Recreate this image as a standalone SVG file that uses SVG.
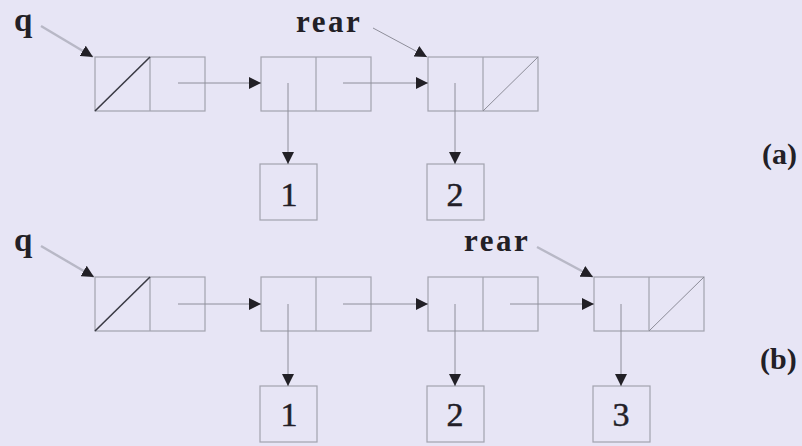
<svg xmlns="http://www.w3.org/2000/svg" width="802" height="446" viewBox="0 0 802 446">
<style>
.bg{fill:#e7e5f5}
.cell{fill:none;stroke:#a2a2ae;stroke-width:1.2}
.diagD{stroke:#3a3a44;stroke-width:1.6}
.diagL{stroke:#8c8c98;stroke-width:1}
.link{fill:none;stroke:#8e8e9a;stroke-width:1}
.ptr{fill:none;stroke:#b8b8c6;stroke-width:2.4}
.lbl{font-family:"Liberation Serif","Times New Roman",serif;font-weight:bold;fill:#222026}
.num{font-family:"Liberation Serif","Times New Roman",serif;font-size:34px;fill:#221e28;stroke:#221e28;stroke-width:0.5;text-anchor:middle}
</style>
<defs>
<marker id="ah" viewBox="0 0 10 10" refX="10" refY="5" markerWidth="12" markerHeight="12" markerUnits="userSpaceOnUse" orient="auto">
<path d="M0,0 L10,5 L0,10 z" fill="#222026"/>
</marker>
</defs>
<rect class="bg" x="0" y="0" width="802" height="446"/>

<!-- (a) -->
<g id="a-q"><text class="lbl" x="14" y="31" font-size="33">q</text></g>
<g id="a-rear"><text class="lbl" x="296" y="32" font-size="31" letter-spacing="2.5">rear</text></g>
<g id="a-label"><text class="lbl" x="762" y="164" font-size="30">(a)</text></g>

<g id="a-node1">
<rect class="cell" x="95" y="57" width="110" height="54"/>
<line class="cell" x1="150" y1="57" x2="150" y2="111"/>
<line class="diagD" x1="95" y1="111" x2="150" y2="57"/>
</g>
<g id="a-node2">
<rect class="cell" x="261" y="57" width="110" height="54"/>
<line class="cell" x1="316" y1="57" x2="316" y2="111"/>
</g>
<g id="a-node3">
<rect class="cell" x="428" y="57" width="110" height="54"/>
<line class="cell" x1="483" y1="57" x2="483" y2="111"/>
<line class="diagL" x1="483" y1="111" x2="538" y2="57"/>
</g>
<g id="a-box1">
<rect class="cell" x="260" y="164" width="57" height="56"/>
<text class="num" x="289" y="206">1</text>
</g>
<g id="a-box2">
<rect class="cell" x="427" y="164" width="57" height="56"/>
<text class="num" x="455" y="206">2</text>
</g>

<!-- (b) -->
<g id="b-q"><text class="lbl" x="14" y="251" font-size="33">q</text></g>
<g id="b-rear"><text class="lbl" x="464" y="251" font-size="31" letter-spacing="2.5">rear</text></g>
<g id="b-label"><text class="lbl" x="760" y="369" font-size="30">(b)</text></g>

<g id="b-node1">
<rect class="cell" x="95" y="277" width="110" height="54"/>
<line class="cell" x1="150" y1="277" x2="150" y2="331"/>
<line class="diagD" x1="95" y1="331" x2="150" y2="277"/>
</g>
<g id="b-node2">
<rect class="cell" x="261" y="277" width="110" height="54"/>
<line class="cell" x1="316" y1="277" x2="316" y2="331"/>
</g>
<g id="b-node3">
<rect class="cell" x="428" y="277" width="110" height="54"/>
<line class="cell" x1="483" y1="277" x2="483" y2="331"/>
</g>
<g id="b-node4">
<rect class="cell" x="594" y="277" width="110" height="54"/>
<line class="cell" x1="649" y1="277" x2="649" y2="331"/>
<line class="diagL" x1="649" y1="331" x2="704" y2="277"/>
</g>
<g id="b-box1">
<rect class="cell" x="260" y="386" width="57" height="56"/>
<text class="num" x="289" y="426">1</text>
</g>
<g id="b-box2">
<rect class="cell" x="427" y="386" width="57" height="56"/>
<text class="num" x="455" y="426">2</text>
</g>
<g id="b-box3">
<rect class="cell" x="593" y="386" width="57" height="56"/>
<text class="num" x="621" y="426">3</text>
</g>

<g id="connectors">
<!-- (a) -->
<line class="ptr" x1="41" y1="26" x2="93" y2="57" marker-end="url(#ah)"/>
<line class="link" x1="373" y1="28" x2="427" y2="57" marker-end="url(#ah)"/>
<line class="link" x1="178" y1="83" x2="261" y2="83" marker-end="url(#ah)"/>
<line class="link" x1="343" y1="83" x2="428" y2="83" marker-end="url(#ah)"/>
<line class="link" x1="288" y1="83" x2="288" y2="164" marker-end="url(#ah)"/>
<line class="link" x1="455" y1="83" x2="455" y2="164" marker-end="url(#ah)"/>
<!-- (b) -->
<line class="ptr" x1="41" y1="246" x2="94" y2="277" marker-end="url(#ah)"/>
<line class="ptr" x1="537" y1="247" x2="593" y2="277" marker-end="url(#ah)"/>
<line class="link" x1="178" y1="304" x2="261" y2="304" marker-end="url(#ah)"/>
<line class="link" x1="343" y1="304" x2="428" y2="304" marker-end="url(#ah)"/>
<line class="link" x1="510" y1="304" x2="594" y2="304" marker-end="url(#ah)"/>
<line class="link" x1="288" y1="304" x2="288" y2="386" marker-end="url(#ah)"/>
<line class="link" x1="455" y1="304" x2="455" y2="386" marker-end="url(#ah)"/>
<line class="link" x1="621" y1="304" x2="621" y2="386" marker-end="url(#ah)"/>
</g>
</svg>
